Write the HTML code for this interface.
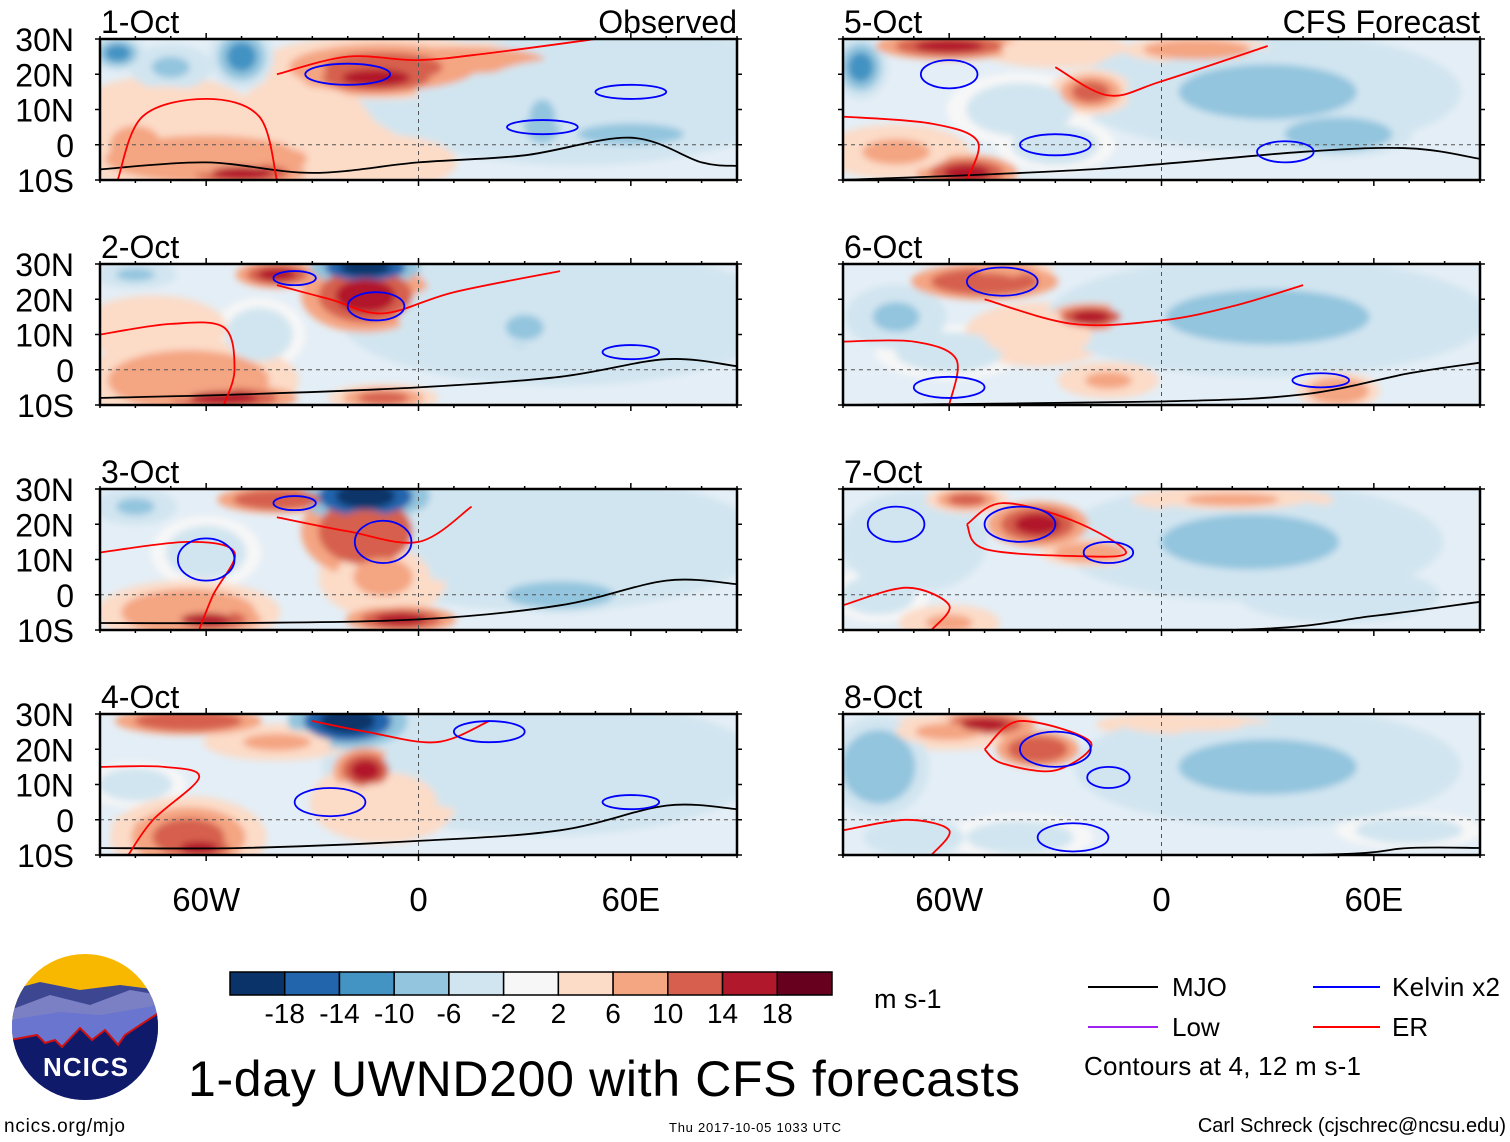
<!DOCTYPE html>
<html><head><meta charset="utf-8">
<style>
body{margin:0;background:#fff;width:1510px;height:1142px;overflow:hidden;font-family:"Liberation Sans",sans-serif;}
svg{position:absolute;left:0;top:0}
</style></head>
<body>
<svg id="chart" width="1510" height="1142" xmlns="http://www.w3.org/2000/svg">
<defs>
<filter id="blur" x="-20%" y="-20%" width="140%" height="140%"><feGaussianBlur stdDeviation="3.5"/></filter>
</defs>
<g id="panels"></g>
<g id="colorbar"></g>
<text x="874" y="1008" font-size="27">m s-1</text>
<g font-size="26">
  <line x1="1088" y1="987" x2="1158" y2="987" stroke="#000" stroke-width="2"/><text x="1172" y="996">MJO</text>
  <line x1="1088" y1="1027" x2="1158" y2="1027" stroke="#a020f0" stroke-width="2"/><text x="1172" y="1036">Low</text>
  <line x1="1313" y1="987" x2="1380" y2="987" stroke="#0000ff" stroke-width="2"/><text x="1392" y="996" textLength="108">Kelvin x2</text>
  <line x1="1313" y1="1027" x2="1380" y2="1027" stroke="#ff0000" stroke-width="2"/><text x="1392" y="1036">ER</text>
  <text x="1084" y="1075" textLength="277">Contours at 4, 12 m s-1</text>
</g>
<text x="188" y="1096" font-size="50" textLength="832">1-day UWND200 with CFS forecasts</text>
<text x="4" y="1132" font-size="19" textLength="121">ncics.org/mjo</text>
<text x="669" y="1132" font-size="13" textLength="172">Thu 2017-10-05 1033 UTC</text>
<text x="1506" y="1132" font-size="20" text-anchor="end">Carl Schreck (cjschrec@ncsu.edu)</text>
<g>
  <clipPath id="logoclip"><circle cx="85" cy="1027" r="73"/></clipPath>
  <g clip-path="url(#logoclip)">
    <rect x="10" y="950" width="150" height="160" fill="#f8b800"/>
    <path d="M10 990 L40 982 L80 990 L120 985 L160 990 L160 1100 L10 1100Z" fill="#3d4690"/>
    <path d="M10 1010 L50 995 L90 1005 L130 990 L160 995 L160 1100 L10 1100Z" fill="#7b80c4"/>
    <path d="M10 1020 L60 1012 L100 1015 L160 1005 L160 1100 L10 1100Z" fill="#6a75d0"/>
    <path d="M10 1040 L37 1035 L45 1043 L55 1040 L62 1047 L80 1028 L92 1040 L105 1030 L118 1045 L125 1035 L160 1012 L160 1110 L10 1110Z" fill="#0f1a6b" stroke="#d01010" stroke-width="2"/>
  </g>
  <text x="86" y="1076" font-size="26" font-weight="bold" fill="#fff" text-anchor="middle" letter-spacing="1">NCICS</text>
</g>
</svg>
<script>
// ---- data ----
const panelTitles = ["1-Oct","2-Oct","3-Oct","4-Oct","5-Oct","6-Oct","7-Oct","8-Oct"];
const latTicks = [30,20,10,0,-10];
const latLabels = ["30N","20N","10N","0","10S"];
const lonTicks = [-60,0,60];
const lonLabels = ["60W","0","60E"];
const cbEdges = [-18,-14,-10,-6,-2,2,6,10,14,18];
const cbColors = ["#0a3469","#2265ad","#4393c3","#93c5de","#d1e5f0","#f7f7f7","#fcdbc7","#f4a582","#d6604d","#b2182b","#67001f"];
// anomaly blobs: [lon, lat, rxDeg, ryDeg, value]
const blobs1 = [[-10,22,28,7,12],[-12,19,16,4,18],[12,24,25,4,10],[-60,-4,30,7,10],[-50,-8,14,3,16],[-72,8,20,9,6],[-30,5,18,12,5],[-50,25,7,7,-12],[-85,26,6,4,-12],[-70,22,9,5,-7],[45,15,48,16,-5],[35,8,6,8,-8],[60,3,25,5,-7],[-10,-5,16,6,6],[-80,0,12,9,8]];
const blobs2 = [[-15,21,14,8,16],[-40,27,9,3,16],[-15,29,12,4,-20],[-65,-3,24,9,10],[-55,-8,16,3,16],[-10,-8,12,3,12],[40,15,48,15,-5],[30,12,9,6,-9],[-75,12,16,7,6],[-45,10,10,8,-4],[-80,27,9,3,-7]];
const blobs3 = [[-15,18,14,10,14],[-40,27,13,3,14],[-15,28,14,6,-20],[-65,-5,20,7,10],[-60,-7,12,3,16],[-5,-7,12,3,16],[-10,5,14,9,8],[35,15,48,15,-5],[40,0,16,4,-9],[-60,12,12,8,-3],[-80,25,9,4,-7]];
const blobs4 = [[-15,14,7,5,18],[-65,-5,17,9,12],[-62,-8,9,3,18],[-20,28,13,6,-20],[-65,28,16,3,14],[-40,22,16,4,8],[35,15,48,15,-5],[-80,10,11,5,-4],[-10,5,16,9,6],[-75,-2,9,4,8]];
const blobs5 = [[-60,28,16,3,18],[-20,15,9,5,12],[-30,27,16,4,6],[10,27,16,3,10],[-55,-8,11,4,16],[-75,-2,16,6,8],[30,15,42,13,-6],[50,3,16,5,-9],[-40,10,16,8,-4],[-85,22,6,7,-10],[-30,0,13,6,-4]];
const blobs6 = [[-50,25,16,4,14],[-20,15,9,3,16],[-35,10,16,7,5],[30,15,48,13,-6],[-15,-3,11,4,8],[50,-6,9,4,10],[-75,15,11,7,-7],[-60,5,16,6,-4],[-45,28,11,3,10]];
const blobs7 = [[-35,20,11,5,16],[-55,27,9,3,12],[-20,12,11,3,10],[20,27,22,3,8],[-60,-8,11,4,8],[25,15,42,13,-6],[-70,15,16,11,-5],[50,0,22,6,-5],[-80,0,11,6,-4]];
const blobs8 = [[-50,27,11,3,18],[-35,20,9,4,14],[-60,25,16,4,8],[10,27,22,3,6],[30,15,42,13,-6],[-80,15,11,11,-8],[-40,-5,16,5,-4],[70,-3,16,4,-4],[-70,-5,11,4,-5]];
const allBlobs = [blobs1,blobs2,blobs3,blobs4,blobs5,blobs6,blobs7,blobs8];
// contour lines: [lon,lat] sequences
const mjoLines = [[[-90,-7],[-60,-5],[-30,-8],[0,-5],[30,-3],[60,2],[80,-5],[90,-6]],[[-90,-8],[-50,-7],[0,-5],[40,-2],[70,3],[90,1]],[[-90,-8],[-50,-8],[0,-7],[40,-3],[70,4],[90,3]],[[-90,-8],[-50,-8],[0,-6],[40,-3],[70,4],[90,3]],[[-90,-10],[-20,-7],[40,-2],[70,-1],[90,-4]],[[-90,-10],[0,-9],[40,-7],[70,-1],[90,2]],[[-90,-10],[20,-10],[60,-6],[90,-2]],[[-90,-10],[40,-10],[70,-8],[90,-8]]];
const erLines = [[[-85,-10],[-78,8],[-60,13],[-45,8],[-40,-10]],[[-90,10],[-70,13],[-55,12],[-52,0],[-55,-10]],[[-90,12],[-65,15],[-52,12],[-58,0],[-62,-10]],[[-90,15],[-72,15],[-62,12],[-75,0],[-82,-10]],[[-90,8],[-65,6],[-52,1],[-55,-10]],[[-90,8],[-70,8],[-58,3],[-60,-10]],[[-90,-3],[-72,2],[-60,-3],[-65,-10]],[[-90,-3],[-72,0],[-60,-3],[-65,-10]]];
const erNorth = [[[-40,20],[-20,25],[0,24],[20,26],[50,30]],[[-40,24],[-25,20],[-10,16],[10,22],[40,28]],[[-40,22],[-20,18],[0,15],[15,25]],[[-30,28],[-15,25],[5,22],[20,28]],[[-30,22],[-15,14],[0,18],[30,28]],[[-50,20],[-25,13],[0,14],[20,18],[40,24]],[[-55,20],[-45,26],[-25,21],[-10,12],[-25,11],[-50,13],[-55,20]],[[-50,20],[-40,28],[-20,22],[-30,14],[-45,16],[-50,20]]];
const kelvinLoops = [[[-20,20,12,3],[60,15,10,2],[35,5,10,2]],[[-35,26,6,2],[-12,18,8,4],[60,5,8,2]],[[-35,26,6,2],[-10,15,8,6],[-60,10,8,6]],[[-25,5,10,4],[20,25,10,3],[60,5,8,2]],[[-30,0,10,3],[35,-2,8,3],[-60,20,8,4]],[[-45,25,10,4],[-60,-5,10,3],[45,-3,8,2]],[[-40,20,10,5],[-15,12,7,3],[-75,20,8,5]],[[-30,20,10,5],[-15,12,6,3],[-25,-5,10,4]]];

const NS='http://www.w3.org/2000/svg';
const W=637, H=141;
const lefts=[100,843];
const tops=[39,264,489,714];
function xScale(x0,lon){return x0+(lon+90)/180*W;}
function yScale(y0,lat){return y0+(30-lat)/40*H;}
function colorOf(v){let i=0;while(i<cbEdges.length&&v>cbEdges[i])i++;return cbColors[i];}
function mk(tag,attrs,parent){const e=document.createElementNS(NS,tag);for(const k in attrs)e.setAttribute(k,attrs[k]);parent.appendChild(e);return e;}
function smooth(pts){
  let d='M'+pts[0][0].toFixed(1)+' '+pts[0][1].toFixed(1);
  for(let i=0;i<pts.length-1;i++){
    const p0=pts[Math.max(i-1,0)],p1=pts[i],p2=pts[i+1],p3=pts[Math.min(i+2,pts.length-1)];
    const c1=[p1[0]+(p2[0]-p0[0])/6,p1[1]+(p2[1]-p0[1])/6],c2=[p2[0]-(p3[0]-p1[0])/6,p2[1]-(p3[1]-p1[1])/6];
    d+=' C'+c1.map(v=>v.toFixed(1)).join(' ')+' '+c2.map(v=>v.toFixed(1)).join(' ')+' '+p2[0].toFixed(1)+' '+p2[1].toFixed(1);
  }
  return d;
}

const root=document.getElementById('panels');
allBlobs.forEach((blobs,p)=>{
  const col=p<4?0:1,row=p%4;
  const x0=lefts[col],y0=tops[row];
  const g=mk('g',{},root);
  
  
  const cid='clip'+p;
  const cp=mk('clipPath',{id:cid},g);
  mk('rect',{x:x0,y:y0,width:W,height:H},cp);
  const inner=mk('g',{'clip-path':'url(#'+cid+')'},g);
  mk('rect',{x:x0,y:y0,width:W,height:H,fill:'#e4eef6'},inner);
  const bg=mk('g',{filter:'url(#blur)'},inner);
  const fs=[1.3,0.95,0.6], ks=[0.45,0.75,1.0];
  const sorted=blobs.slice().sort((a,b)=>Math.abs(a[4])-Math.abs(b[4]));
  for(let k=0;k<3;k++){
    sorted.forEach(b=>{
      const rx=b[2]/180*W, ry=b[3]/40*H;
      const e=mk('ellipse',{cx:xScale(x0,b[0]),cy:yScale(y0,b[1]),rx:rx*fs[k],ry:ry*fs[k],fill:colorOf(b[4]*ks[k])},bg);
      
      
    });
  }
  mk('line',{x1:x0,y1:yScale(y0,0),x2:x0+W,y2:yScale(y0,0),stroke:'#555','stroke-dasharray':'4,4','stroke-width':1},inner);
  mk('line',{x1:xScale(x0,0),y1:y0,x2:xScale(x0,0),y2:y0+H,stroke:'#555','stroke-dasharray':'4,4','stroke-width':1},inner);
  const line=(pts,color,name)=>{
    const l=mk('path',{d:smooth(pts.map(q=>[xScale(x0,q[0]),yScale(y0,q[1])])),fill:'none',stroke:color,'stroke-width':1.8},inner);
    
    
  };
  line(mjoLines[p],'#000','mjo-contour');
  line(erLines[p],'#f00','er-contour');
  line(erNorth[p],'#f00','er-contour');
  kelvinLoops[p].forEach(k=>{
    const e=mk('ellipse',{cx:xScale(x0,k[0]),cy:yScale(y0,k[1]),rx:k[2]/180*W,ry:k[3]/40*H,fill:'none',stroke:'#0000ff','stroke-width':1.8},inner);
    
    
  });
  mk('rect',{x:x0,y:y0,width:W,height:H,fill:'none',stroke:'#000','stroke-width':2.5},g);
  for(let lon=-90;lon<=90;lon+=10){
    const x=xScale(x0,lon),len=(lon%60===0)?6:3;
    mk('line',{x1:x,y1:y0,x2:x,y2:y0-len,stroke:'#000','stroke-width':1.5},g);
    mk('line',{x1:x,y1:y0+H,x2:x,y2:y0+H+len,stroke:'#000','stroke-width':1.5},g);
  }
  latTicks.forEach((lat,i)=>{
    const y=yScale(y0,lat);
    mk('line',{x1:x0,y1:y,x2:x0-5,y2:y,stroke:'#000','stroke-width':1.5},g);
    mk('line',{x1:x0+W,y1:y,x2:x0+W+5,y2:y,stroke:'#000','stroke-width':1.5},g);
    if(col===0){
      const t=mk('text',{x:74,y:y+12,'font-size':32,'text-anchor':'end'},g);
      t.textContent=latLabels[i];
    }
  });
  const tt=mk('text',{x:x0+1,y:y0-6,'font-size':32},g);
  tt.textContent=panelTitles[p];
  
  
  if(row===0){
    const t2=mk('text',{x:x0+W,y:y0-6,'font-size':32,'text-anchor':'end'},g);
    t2.textContent=col===0?'Observed':'CFS Forecast';
  }
  if(row===3){
    lonTicks.forEach((lon,i)=>{
      const t=mk('text',{x:xScale(x0,lon),y:911,'font-size':33,'text-anchor':'middle'},g);
      t.textContent=lonLabels[i];
      
      
    });
  }
});
const cb=document.getElementById('colorbar');
const cbx=230,cbw=602,bw=cbw/cbColors.length;
cbColors.forEach((c,i)=>{
  const r=mk('rect',{x:cbx+i*bw,y:972,width:bw,height:23,fill:c,stroke:'#000','stroke-width':1.5},cb);
  
  
});
cbEdges.forEach((v,i)=>{
  const t=mk('text',{x:cbx+(i+1)*bw,y:1023,'font-size':28,'text-anchor':'middle'},cb);
  t.textContent=v;
});
</script>
</body></html>
